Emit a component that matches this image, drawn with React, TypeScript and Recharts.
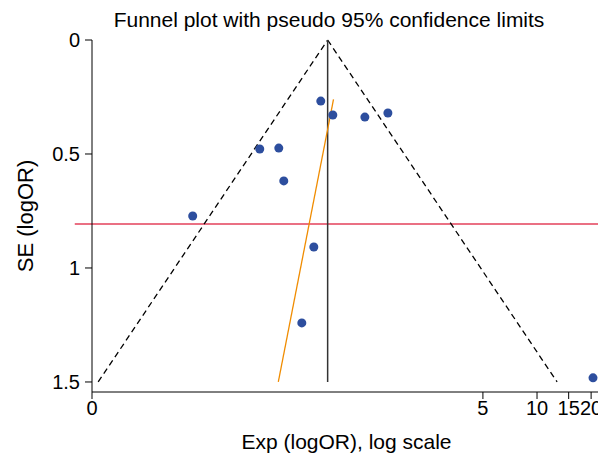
import React from 'react';
import {
  ScatterChart,
  Scatter,
  XAxis,
  YAxis,
  ReferenceLine,
} from 'recharts';

// studies: log odds ratio vs standard error
const studyLogOR = [-0.468, -0.314, 0.097, 0.392, -1.25, -1.006, -0.942, -2.109, -0.557, -0.711, 3.02];
const studySE = [0.268, 0.329, 0.338, 0.32, 0.478, 0.474, 0.618, 0.772, 0.908, 1.241, 1.482];

// pooled estimate and pseudo 95% limits (endpoints)
const pooledLogOR = -0.38;
const funnelLeft = [
  { x: -3.32, y: 1.5 },
  { x: -0.38, y: 0 },
];
const funnelRight = [
  { x: -0.38, y: 0 },
  { x: 2.56, y: 1.5 },
];
// regression line
const eggerLine = [
  { x: -1.012, y: 1.5 },
  { x: -0.305, y: 0.26 },
];
const redLineSE = 0.807;
const redLineStart = -3.62;

const xTickOR = [0.0334, 5, 10, 15, 20, 22.7];
const xTickLabels = ['0', '5', '10', '15', '20', ''];
const yTicks = [0, 0.5, 1, 1.5];

const points = studyLogOR.map((x, i) => ({ x, y: studySE[i] }));
const xTicks = xTickOR.map((v) => Math.log(v));
const xDomain = [xTicks[0], xTicks[xTicks.length - 1]];

const font = '"Liberation Sans", Arial, sans-serif';

const Dot = (props: any) => (
  <circle cx={props.cx} cy={props.cy} r={4.5} fill="#2D4E9E" />
);

export default function App() {
  return (
    <div style={{ position: 'relative', width: 598, height: 451, fontFamily: font }}>
      <div
        style={{
          position: 'absolute',
          left: 321,
          top: 0,
          transform: 'translateX(-50%)',
          whiteSpace: 'nowrap',
          fontSize: 21,
          lineHeight: '24px',
          color: '#000',
        }}
      >
        Funnel plot with pseudo 95% confidence limits
      </div>
      <ScatterChart width={598} height={451} margin={{ top: 32, right: 5, bottom: 7, left: 0 }}>
        <XAxis
          type="number"
          dataKey="x"
          domain={xDomain}
          ticks={xTicks}
          interval={0}
          allowDataOverflow
          tickFormatter={(v: number) => {
            const i = xTicks.findIndex((t) => Math.abs(t - v) < 1e-6);
            return i >= 0 ? xTickLabels[i] : '';
          }}
          height={60}
          tickSize={7}
          stroke="#000"
          tick={{ fill: '#000', fontSize: 20, fontFamily: font }}
          label={{
            value: 'Exp (logOR), log scale',
            position: 'insideBottom',
            offset: 3,
            fill: '#000',
            fontSize: 21,
            fontFamily: font,
          }}
        />
        <YAxis
          type="number"
          dataKey="y"
          reversed
          domain={[0, 1.544]}
          ticks={yTicks}
          interval={0}
          allowDataOverflow
          width={84}
          tickSize={7}
          tickMargin={5}
          stroke="#000"
          tick={{ fill: '#000', fontSize: 20, fontFamily: font }}
          label={{
            value: 'SE (logOR)',
            angle: -90,
            position: 'insideLeft',
            offset: 17,
            fill: '#000',
            fontSize: 22,
            fontFamily: font,
            style: { textAnchor: 'middle' },
          }}
        />
        <ReferenceLine
          segment={[
            { x: redLineStart, y: redLineSE },
            { x: xDomain[1], y: redLineSE },
          ]}
          ifOverflow="visible"
          stroke="#E3405A"
          strokeWidth={1.5}
        />
        <ReferenceLine
          segment={funnelLeft}
          stroke="#000"
          strokeWidth={1.3}
          strokeDasharray="6 4"
        />
        <ReferenceLine
          segment={funnelRight}
          stroke="#000"
          strokeWidth={1.3}
          strokeDasharray="6 4"
        />
        <ReferenceLine
          segment={[
            { x: pooledLogOR, y: 0 },
            { x: pooledLogOR, y: 1.5 },
          ]}
          stroke="#333"
          strokeWidth={1.5}
        />
        <ReferenceLine segment={eggerLine} stroke="#F08C00" strokeWidth={1.3} />
        <Scatter data={points} shape={Dot} isAnimationActive={false} />
      </ScatterChart>
    </div>
  );
}
